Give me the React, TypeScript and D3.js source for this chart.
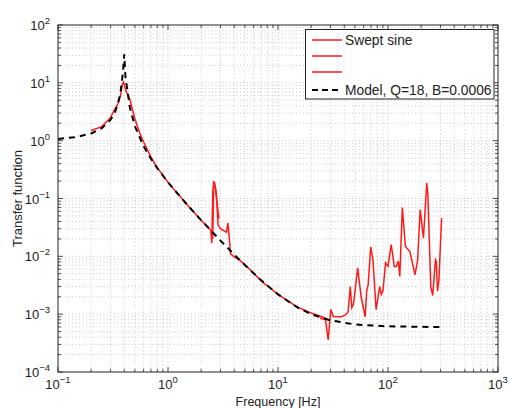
import React from "react";
import * as d3 from "d3";

const xDecades = [-1, 0, 1, 2, 3];
const yDecades = [-4, -3, -2, -1, 0, 1, 2];

const modelF = [0.1, 0.15, 0.2, 0.25, 0.3, 0.33, 0.35, 0.37, 0.38, 0.39, 0.4, 0.41, 0.42, 0.45, 0.5, 0.6, 0.7, 0.8, 1.0, 1.5, 2, 3, 4, 5, 7, 10, 15, 20, 30, 50, 100, 200, 316];
const modelV = [1.067, 1.164, 1.333, 1.641, 2.29, 3.13, 4.27, 6.9, 10.2, 16, 31, 13, 9.3, 3.76, 1.78, 0.8, 0.485, 0.333, 0.19, 0.0772, 0.0423, 0.0187, 0.0107, 0.00705, 0.00388, 0.0022, 0.00131, 0.001, 0.00078, 0.000664, 0.000616, 0.000604, 0.0006];

const sweep1F = [0.2, 0.25, 0.3, 0.33, 0.35, 0.37, 0.385, 0.395, 0.405, 0.42, 0.45, 0.48, 0.5, 0.55, 0.6, 0.7, 0.8, 1.0, 1.5, 2.0, 2.3, 2.45, 2.5, 2.55, 2.6, 2.7, 2.8, 2.9];
const sweep1V = [1.5, 1.75, 2.5, 3.6, 4.3, 6, 9.5, 10.3, 8.5, 6.8, 5.2, 3.2, 2.4, 1.4, 0.95, 0.52, 0.34, 0.19, 0.077, 0.042, 0.032, 0.028, 0.017, 0.12, 0.2, 0.15, 0.08, 0.045];

const sweep2F = [2.55, 2.6, 2.65, 2.75, 2.85, 3.0, 3.2, 3.4, 3.5, 3.6, 3.7, 4, 4.5, 5, 7, 7.6, 8, 10, 15, 20, 25, 28];
const sweep2V = [0.02, 0.15, 0.19, 0.12, 0.035, 0.03, 0.028, 0.026, 0.038, 0.022, 0.011, 0.0098, 0.0085, 0.0072, 0.0038, 0.0033, 0.0031, 0.0022, 0.00132, 0.00105, 0.0009, 0.00083];

const sweep3F = [24, 27, 28.6, 30.2, 31.8, 37.9, 41.6, 43.4, 45.4, 46.9, 48.6, 53, 57, 62, 64, 66, 69.6, 73, 78, 84, 87, 90, 95, 100, 107, 114, 119, 124, 128, 135, 144, 158, 176, 186, 196, 210, 225, 230, 245, 255, 270, 275, 282, 290, 307];
const sweep3V = [0.00086, 0.0008, 0.00036, 0.0012, 0.00091, 0.0009, 0.00099, 0.0011, 0.003, 0.0013, 0.0015, 0.0063, 0.002, 0.0009, 0.0025, 0.0032, 0.0145, 0.0087, 0.0012, 0.003, 0.0022, 0.0025, 0.0077, 0.0067, 0.016, 0.0067, 0.0067, 0.0083, 0.0045, 0.07, 0.0148, 0.0121, 0.0048, 0.0087, 0.064, 0.0207, 0.185, 0.124, 0.003, 0.0021, 0.0087, 0.0081, 0.0025, 0.0037, 0.046];

const legendLabels = ["Swept sine", "", "", "Model, Q=18, B=0.0006"];
const xLabel = "Frequency [Hz]";
const yLabel = "Transfer function";

const W = 508;
const H = 408;
const L = 58, R = 498, T = 25, B = 372;
const FONT = "'Liberation Sans', Arial, Helvetica, sans-serif";

export default function App() {
  const x = d3.scaleLog().domain([0.1, 1000]).range([L, R]);
  const y = d3.scaleLog().domain([1e-4, 100]).range([B, T]);

  const minorX: number[] = [];
  xDecades.slice(0, -1).forEach((d) => {
    for (let k = 2; k <= 9; k++) minorX.push(k * Math.pow(10, d));
  });
  const minorY: number[] = [];
  yDecades.slice(0, -1).forEach((d) => {
    for (let k = 2; k <= 9; k++) minorY.push(k * Math.pow(10, d));
  });
  const majorX = xDecades.map((d) => Math.pow(10, d));
  const majorY = yDecades.map((d) => Math.pow(10, d));

  const line = d3
    .line<[number, number]>()
    .x((d) => x(d[0]))
    .y((d) => y(d[1]));

  const zip = (a: number[], b: number[]) => a.map((v, i) => [v, b[i]] as [number, number]);

  const gridStyle = { stroke: "#a8a8a8", strokeWidth: 0.6, strokeDasharray: "1,2.5" };

  const legendYs = [40, 56, 72, 90];

  return (
    <svg width={W} height={H} style={{ position: "absolute", left: 0, top: 0, background: "#fff" }}>
      <defs>
        <clipPath id="plotclip">
          <rect x={L} y={T} width={R - L} height={B - T} />
        </clipPath>
      </defs>
      <rect x={0} y={0} width={W} height={H} fill="#fff" />
      {/* grid */}
      <g>
        {minorX.concat(majorX.slice(1, -1)).map((v, i) => (
          <line key={"gx" + i} x1={x(v)} x2={x(v)} y1={T} y2={B} {...gridStyle} />
        ))}
        {minorY.concat(majorY.slice(1, -1)).map((v, i) => (
          <line key={"gy" + i} x1={L} x2={R} y1={y(v)} y2={y(v)} {...gridStyle} />
        ))}
      </g>
      {/* data */}
      <g clipPath="url(#plotclip)" fill="none">
        <path d={line(zip(sweep1F, sweep1V)) || ""} stroke="#ff1a1a" strokeWidth={1.5} />
        <path d={line(zip(sweep2F, sweep2V)) || ""} stroke="#ff1a1a" strokeWidth={1.5} />
        <path d={line(zip(sweep3F, sweep3V)) || ""} stroke="#ff1a1a" strokeWidth={1.5} />
        <path d={line(zip(modelF, modelV)) || ""} stroke="#000" strokeWidth={2} strokeDasharray="6,5" />
      </g>
      {/* ticks */}
      <g stroke="#222" strokeWidth={0.8}>
        {majorX.map((v, i) => (
          <g key={"tx" + i}>
            <line x1={x(v)} x2={x(v)} y1={B} y2={B - 5} />
            <line x1={x(v)} x2={x(v)} y1={T} y2={T + 5} />
          </g>
        ))}
        {minorX.map((v, i) => (
          <g key={"mtx" + i}>
            <line x1={x(v)} x2={x(v)} y1={B} y2={B - 3} />
            <line x1={x(v)} x2={x(v)} y1={T} y2={T + 3} />
          </g>
        ))}
        {majorY.map((v, i) => (
          <g key={"ty" + i}>
            <line x1={L} x2={L + 5} y1={y(v)} y2={y(v)} />
            <line x1={R} x2={R - 5} y1={y(v)} y2={y(v)} />
          </g>
        ))}
        {minorY.map((v, i) => (
          <g key={"mty" + i}>
            <line x1={L} x2={L + 3} y1={y(v)} y2={y(v)} />
            <line x1={R} x2={R - 3} y1={y(v)} y2={y(v)} />
          </g>
        ))}
      </g>
      <rect x={L} y={T} width={R - L} height={B - T} fill="none" stroke="#222" strokeWidth={1} />
      {/* tick labels */}
      <g fontFamily={FONT} fill="#222">
        {xDecades.map((d, i) => (
          <text key={"xl" + i} x={x(Math.pow(10, d))} y={389} fontSize={13} textAnchor="middle">
            10
            <tspan fontSize={9.5} dy={-6}>{d < 0 ? "\u2212" + Math.abs(d) : String(d)}</tspan>
          </text>
        ))}
        {yDecades.map((d, i) => (
          <text key={"yl" + i} x={50} y={y(Math.pow(10, d)) + 5} fontSize={13} textAnchor="end">
            10
            <tspan fontSize={9.5} dy={-6}>{d < 0 ? "\u2212" + Math.abs(d) : String(d)}</tspan>
          </text>
        ))}
        <text x={(L + R) / 2} y={405.5} fontSize={12.5} textAnchor="middle">{xLabel}</text>
        <text transform={`translate(22,${(T + B) / 2}) rotate(-90)`} fontSize={13} textAnchor="middle">{yLabel}</text>
      </g>
      {/* legend */}
      <g fontFamily={FONT}>
        <rect x={305.5} y={29.5} width={188.5} height={69.5} fill="#fff" stroke="#222" strokeWidth={1} />
        {legendLabels.map((lab, i) => (
          <g key={"lg" + i}>
            <line
              x1={312}
              x2={342}
              y1={legendYs[i]}
              y2={legendYs[i]}
              stroke={i < 3 ? "#ff1a1a" : "#000"}
              strokeWidth={i < 3 ? 1.5 : 2}
              strokeDasharray={i < 3 ? undefined : "6,4"}
            />
            <text x={345} y={legendYs[i] + 4.5} fontSize={13.8} fill="#222">{lab}</text>
          </g>
        ))}
      </g>
    </svg>
  );
}
